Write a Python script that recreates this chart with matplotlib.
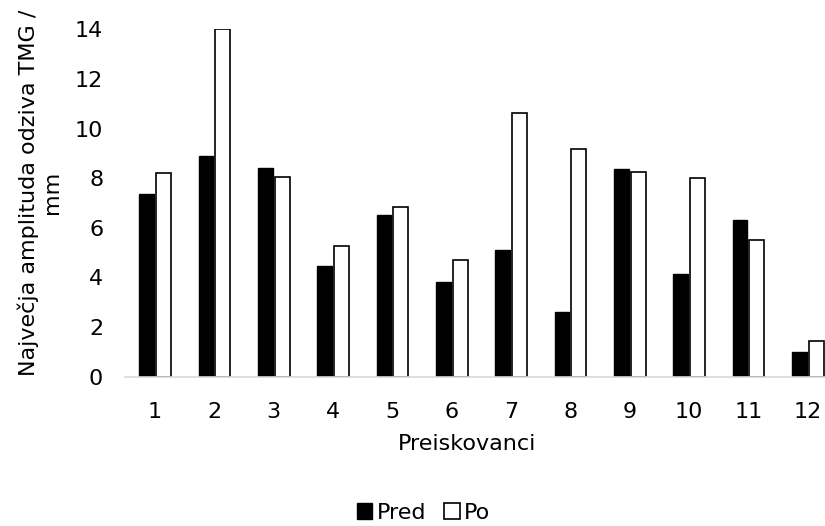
import numpy as np
import matplotlib.pyplot as plt

# Podatki
preiskovanci = [str(i) for i in range(1, 13)]
pred = [7.37, 8.89, 8.43, 4.48, 6.53, 3.82, 5.11, 2.62, 8.36, 4.13, 6.31, 1.01]
po = [8.21, 14.0, 8.06, 5.28, 6.83, 4.69, 10.62, 9.18, 8.27, 8.01, 5.50, 1.45]

plt.rcParams['font.family'] = ['DejaVu Sans']
plt.rcParams['font.size'] = 16

fig = plt.figure(figsize=(8.25, 5.26), dpi=100)
ax = fig.add_axes([0.152, 0.284, 0.863, 0.66])

x = np.arange(len(preiskovanci))
w = 0.25
off = 0.142
ax.bar(x - off, pred, w, color='black', edgecolor='black', linewidth=1, label='Pred')
ax.bar(x + off, po, w, color='white', edgecolor='black', linewidth=1.2, label='Po')

ax.set_xlim(-0.5, len(preiskovanci) - 0.5)
ax.set_ylim(0, 14)
ax.set_yticks(range(0, 15, 2))
ax.set_xticks(x)
ax.set_xticklabels(preiskovanci)

for s in ['top', 'right', 'left']:
    ax.spines[s].set_visible(False)
ax.spines['bottom'].set_color('#d9d9d9')
ax.spines['bottom'].set_linewidth(1.2)
ax.spines['bottom'].set_zorder(3)

ax.tick_params(axis='y', length=0, pad=16)
ax.tick_params(axis='x', length=0, pad=18)

ax.set_xlabel('Preiskovanci')
ax.xaxis.set_label_coords(0.48, -0.165)
ax.set_ylabel('Največja amplituda odziva TMG /\nmm', linespacing=1.2)
ax.yaxis.set_label_coords(-0.089, 0.53)

fig.legend(loc='center', bbox_to_anchor=(423.5 / 825, 1 - 513 / 526), ncol=2,
           frameon=False, handlelength=0.7, handleheight=0.7,
           handletextpad=0.2, columnspacing=0.8)

plt.savefig('out.png', dpi=100)
